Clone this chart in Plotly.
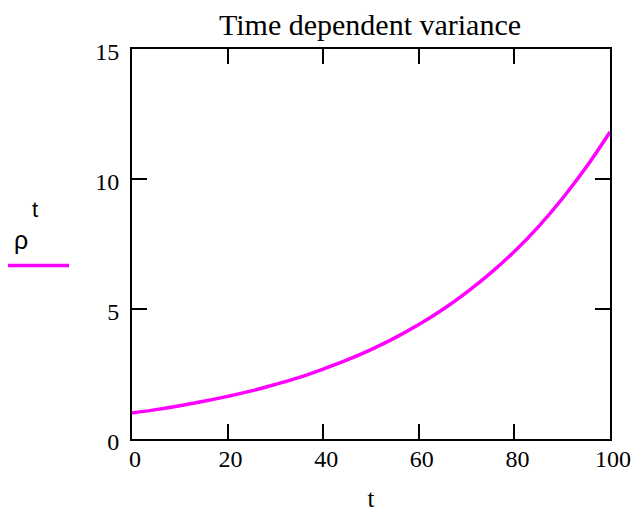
import plotly.graph_objects as go

t_vals = [0, 5, 10, 15, 20, 25, 30, 35, 40, 45, 50, 55, 60, 65, 70, 75, 80, 85, 90, 95, 100]
rho_t = [1.00, 1.13, 1.28, 1.45, 1.64, 1.85, 2.10, 2.37, 2.69, 3.04, 3.44, 3.89,
         4.40, 4.98, 5.64, 6.38, 7.21, 8.16, 9.24, 10.45, 11.81]
x_ticks = [0, 20, 40, 60, 80, 100]
y_ticks = [0, 5, 10, 15]

serif = "Liberation Serif, Times New Roman, serif"
sans = "Liberation Sans, Arial, sans-serif"

fig = go.Figure()
fig.add_trace(go.Scatter(x=t_vals, y=rho_t, mode="lines", line=dict(color="#FF00FF", width=3.5, shape="spline"),
                         showlegend=False, hoverinfo="skip"))

L, R, T, B = 132, 610, 49, 439
W, H = 632, 512

axis_common = dict(showline=True, linecolor="black", linewidth=2, mirror="allticks",
                   ticks="inside", ticklen=15, tickwidth=2, tickcolor="black",
                   showgrid=False, zeroline=False, automargin=False,
                   tickfont=dict(family=serif, size=24, color="black"))

fig.update_xaxes(range=[0, 100], tickvals=x_ticks, ticktext=[str(v) for v in x_ticks],
                 title=dict(text="t", font=dict(family=serif, size=25, color="black"), standoff=26),
                 ticklabelshift=3, ticklabelstandoff=-3,
                 **axis_common)
fig.update_yaxes(range=[0, 15], tickvals=y_ticks, ticktext=[str(v) for v in y_ticks],
                 ticklabelstandoff=6, ticklabelshift=3, **axis_common)

pw = R - L
ph = B - T
fig.add_shape(type="line", xref="paper", yref="paper",
              x0=(8 - L) / pw, x1=(69 - L) / pw, y0=(B - 265.5) / ph, y1=(B - 265.5) / ph,
              line=dict(color="#FF00FF", width=3.5))
fig.add_annotation(xref="paper", yref="paper", x=(21 - L) / pw, y=(B - 240) / ph,
                   text="ρ", showarrow=False, font=dict(family=sans, size=25, color="black"),
                   xanchor="center", yanchor="middle")
fig.add_annotation(xref="paper", yref="paper", x=(35 - L) / pw, y=(B - 209) / ph,
                   text="t", showarrow=False, font=dict(family=sans, size=22, color="black"),
                   xanchor="center", yanchor="middle")

fig.update_layout(
    width=W, height=H,
    margin=dict(l=L, r=W - R, t=T, b=H - B, autoexpand=False),
    paper_bgcolor="white", plot_bgcolor="white",
    title=dict(text="Time dependent variance", x=(370 - 0) / W, xanchor="center",
               y=1 - 24 / H, yanchor="middle",
               font=dict(family=serif, size=30, color="black")),
)

fig.write_html("out.html")
